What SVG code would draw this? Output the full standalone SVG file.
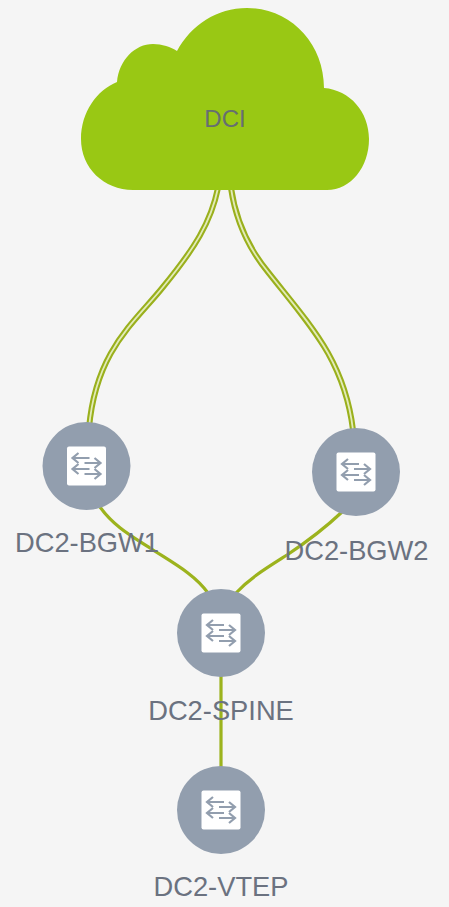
<svg xmlns="http://www.w3.org/2000/svg" width="449" height="907" viewBox="0 0 449 907">
<style>
.lbl{font-family:"Liberation Sans",Arial,sans-serif;font-size:27.300px;fill:#6b7280;text-anchor:middle}
.dci{font-family:"Liberation Sans",Arial,sans-serif;font-size:24px;fill:#666f70;text-anchor:middle}
.outer{fill:none;stroke:#9ab01c;stroke-width:6}
.inner{fill:none;stroke:#e2ebb8;stroke-width:1.800}
.link{fill:none;stroke:#9cb31d;stroke-width:3.200}
.disc{fill:#929eae}
.tile{fill:#fff}
.gl{fill:none;stroke:#929eae;stroke-width:2.200}
</style>
<defs>
<g id="sw">
<circle class="disc" r="44"/>
<rect class="tile" x="-19.500" y="-19.500" width="39" height="39" rx="2"/>
<path class="gl" d="M-13-8H3M-8-13L-14-8L-8-3M-2-3H14M8-8L14-3L8 2M-13 3H3M-8-2L-14 3L-8 8M-2 8H14M8 3L14 8L8 13"/>
</g>
</defs>
<rect width="449" height="907" fill="#f5f5f5"/>
<g id="connectors">
<path class="outer" d="M218 188C211 222 195 248 163 287C135 322 96 350 89 428"/>
<path class="inner" d="M218 188C211 222 195 248 163 287C135 322 96 350 89 428"/>
<path class="outer" d="M231 188C236 222 250 250 268 272C290 300 312 325 328 353C342 378 350 405 353 430"/>
<path class="inner" d="M231 188C236 222 250 250 268 272C290 300 312 325 328 353C342 378 350 405 353 430"/>
<path class="link" d="M100 507C115 528 135 538 153 550C175 564 195 575 208 593"/>
<path class="link" d="M342 512C325 528 305 543 287 555C265 569 250 578 236 593"/>
<path class="link" d="M221 675V770"/>
</g>
<g id="node-dci">
<path d="M133 190C104 190 81 168 81 139C81 112 97 90 117 82C119 60 135 44 153 44C162 44 171 47 177 51C191 25 217 8 247 8C290 8 324 43 324 88C350 90 369 112 369 139C369 167 351 190 327 190Z" fill="#99c814"/>
<text class="dci" x="225" y="127">DCI</text>
</g>
<g id="node-bgw1">
<use href="#sw" x="86.500" y="466"/>
<text class="lbl" x="87" y="552">DC2-BGW1</text>
</g>
<g id="node-bgw2">
<use href="#sw" x="356" y="472"/>
<text class="lbl" x="356.500" y="560">DC2-BGW2</text>
</g>
<g id="node-spine">
<use href="#sw" x="221" y="633"/>
<text class="lbl" x="221" y="720">DC2-SPINE</text>
</g>
<g id="node-vtep">
<use href="#sw" x="221" y="810"/>
<text class="lbl" x="221" y="896">DC2-VTEP</text>
</g>
</svg>
